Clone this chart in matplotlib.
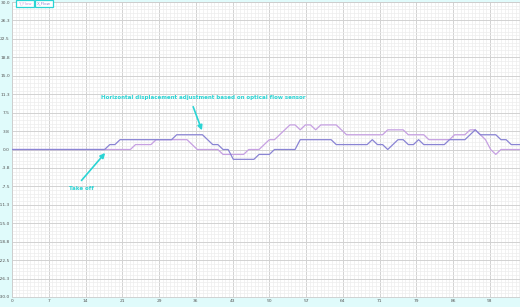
import numpy as np
import matplotlib
matplotlib.use("Agg")
import matplotlib.pyplot as plt
from matplotlib.ticker import MultipleLocator

# ---- data ----
y_flow = [0,0,0,0,0,0,0,0,0,0, 0,0,0,0,0,0,0,0,0,0,
          0,0,0,0,1,1,1,1,2,2, 2,2,2,2,2,1,0,0,0,0,
          0,-1,-1,-1,-1,-1,0,0,0,1, 2,2,3,4,5,5,4,5,5,4,
          5,5,5,5,4,3,3,3,3,3, 3,3,3,4,4,4,4,3,3,3,
          3,2,2,2,2,2,3,3,3,4, 4,3,2,0,-1,0,0,0,0,0]
x_flow = [0,0,0,0,0,0,0,0,0,0, 0,0,0,0,0,0,0,0,0,1,
          1,2,2,2,2,2,2,2,2,2, 2,2,3,3,3,3,3,3,2,1,
          1,0,0,-2,-2,-2,-2,-2,-1,-1, -1,0,0,0,0,0,2,2,2,2,
          2,2,2,1,1,1,1,1,1,1, 2,1,1,0,1,2,2,1,1,2,
          1,1,1,1,1,2,2,2,2,3, 4,3,3,3,3,2,2,1,1,1]
series_names = ["Y_Flow", "X_Flow"]
x_tick_labels = ["0", "7", "14", "21", "29", "36", "43", "50", "57", "64", "71", "79", "86", "93"]
y_tick_labels = ["30.0", "26.3", "22.5", "18.8", "15.0", "11.3", "7.5", "3.8", "0.0",
                 "-3.8", "-7.5", "-11.3", "-15.0", "-18.8", "-22.5", "-26.3", "-30.0"]
annot_main = "Horizontal displacement adjustment based on optical flow sensor"
annot_takeoff = "Take off"

# ---- styles ----
c_y = "#c6a0e2"
c_x = "#8a84d4"
c_cyan = "#2ad4d4"
bg = "#e0fbfb"

fig = plt.figure(figsize=(5.2, 3.07), dpi=100, facecolor=bg)
ax = fig.add_axes([12/520, 1 - 297/307, 1 - 12/520, 295/307])
ax.set_facecolor("white")

idx = np.arange(len(y_flow))
ax.plot(idx, y_flow, color=c_y, lw=0.9, zorder=3)
ax.plot(idx, x_flow, color=c_x, lw=0.9, zorder=3)

ax.set_xlim(0, 98.7)
ax.set_ylim(-30, 30)

xt = np.linspace(0, 100, 15)[:len(x_tick_labels)]
ax.set_xticks(xt)
ax.set_xticklabels(x_tick_labels)
yt = np.linspace(30, -30, len(y_tick_labels))
ax.set_yticks(yt)
ax.set_yticklabels(y_tick_labels)
ax.xaxis.set_minor_locator(MultipleLocator(100 / 14 / 10))
ax.yaxis.set_minor_locator(MultipleLocator(3.75 / 5))
ax.grid(which="major", color="#d2d2d2", lw=0.7, zorder=1)
ax.grid(which="minor", color="#ededed", lw=0.5, zorder=0)
ax.set_axisbelow(True)
ax.tick_params(which="both", length=0, labelsize=3.2, colors="#555555", pad=1.5)
for s in ax.spines.values():
    s.set_color("#cccccc")
    s.set_linewidth(0.6)

# annotations
ax.text(37.2, 10.5, annot_main, ha="center", va="center", color=c_cyan,
        fontsize=4.0, fontweight="bold", zorder=5)
ax.annotate("", xy=(36.9, 3.9), xytext=(35.2, 8.7),
            arrowprops=dict(arrowstyle="-|>", color=c_cyan, lw=1.2, mutation_scale=7,
                            shrinkA=0, shrinkB=0), zorder=5)
ax.text(13.4, -8.0, annot_takeoff, ha="center", va="center", color=c_cyan,
        fontsize=4.0, fontweight="bold", zorder=5)
ax.annotate("", xy=(18.1, -0.7), xytext=(13.5, -6.3),
            arrowprops=dict(arrowstyle="-|>", color=c_cyan, lw=1.2, mutation_scale=7,
                            shrinkA=0, shrinkB=0), zorder=5)

# legend boxes
for name, col, xpix in zip(series_names, [c_y, c_x], [25, 44]):
    fig.text(xpix / 520, 1 - 3.5 / 307, name, color=col, fontsize=2.9,
             ha="center", va="center",
             bbox=dict(boxstyle="square,pad=0.45", fc="white", ec=c_cyan, lw=0.9))

fig.savefig("out.png", dpi=100, facecolor=bg)
